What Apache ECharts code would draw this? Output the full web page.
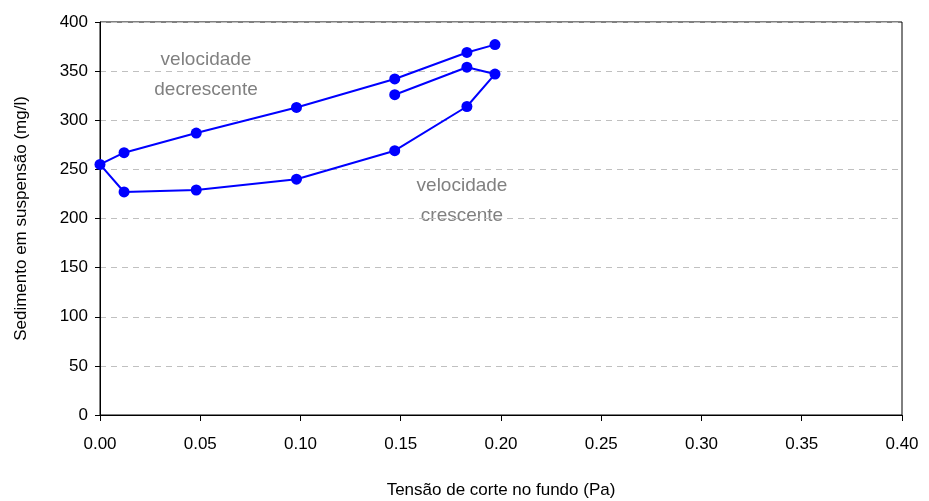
<!DOCTYPE html>
<html lang="pt">
<head>
    <meta charset="UTF-8">
    <title>Sedimento em suspensão</title>
    <script src="https://cdn.jsdelivr.net/npm/echarts@6/dist/echarts.min.js"></script>
    <style>
        html, body { margin: 0; padding: 0; background: #fff; }
    </style>
</head>
<body>
    <div id="main" style="width:929px;height:501px;"></div>

    <script>
        // tensão de corte (Pa), percorrida em ordem (laço de histerese)
        const tensao = [0.147, 0.183, 0.197, 0.183, 0.147, 0.098, 0.048, 0.012, 0.0,
                        0.012, 0.048, 0.098, 0.147, 0.183, 0.197];
        // sedimento em suspensão (mg/l)
        const sedimento = [326, 354, 347, 314, 269, 240, 229, 227, 255,
                           267, 287, 313, 342, 369, 377];

        const xTicks = [0, 0.05, 0.1, 0.15, 0.2, 0.25, 0.3, 0.35, 0.4];
        const yTicks = [0, 50, 100, 150, 200, 250, 300, 350, 400];

        const pontos = tensao.map(function (t, i) { return [t, sedimento[i]]; });

        const fonte = 'Liberation Sans';

        const option = {
            animation: false,
            backgroundColor: '#fff',
            grid: {
                left: 100, right: 27, top: 22, bottom: 86,
                outerBoundsMode: 'none',
                containLabel: false,
                show: true,
                borderColor: '#000',
                borderWidth: 1
            },
            xAxis: {
                type: 'value',
                min: xTicks[0],
                max: xTicks[xTicks.length - 1],
                interval: 0.05,
                name: 'Tensão de corte no fundo (Pa)',
                nameLocation: 'middle',
                nameGap: 67,
                nameTextStyle: { fontFamily: fonte, fontSize: 17, color: '#000' },
                axisLine: { lineStyle: { color: '#000', width: 1 } },
                axisTick: { show: true, inside: false, length: 6, lineStyle: { color: '#000' } },
                axisLabel: {
                    fontFamily: fonte, fontSize: 17, color: '#000', margin: 21,
                    formatter: function (v) { return v.toFixed(2); }
                },
                splitLine: { show: false }
            },
            yAxis: {
                type: 'value',
                min: yTicks[0],
                max: yTicks[yTicks.length - 1],
                interval: 50,
                name: 'Sedimento em suspensão (mg/l)',
                nameLocation: 'middle',
                nameGap: 70,
                nameTextStyle: { fontFamily: fonte, fontSize: 17, color: '#000' },
                axisLine: { show: true, lineStyle: { color: '#000', width: 1 } },
                axisTick: { show: true, inside: false, length: 5, lineStyle: { color: '#000' } },
                axisLabel: { fontFamily: fonte, fontSize: 17, color: '#000', margin: 12 },
                splitLine: { show: true, lineStyle: { color: '#c0c0c0', type: [6, 5], width: 1 } }
            },
            graphic: [
                {
                    type: 'text', x: 206, y: 45,
                    style: {
                        text: 'velocidade\ndecrescente', textAlign: 'center',
                        fill: '#808080', fontFamily: fonte, fontSize: 19, lineHeight: 30
                    }
                },
                {
                    type: 'text', x: 462, y: 171,
                    style: {
                        text: 'velocidade\ncrescente', textAlign: 'center',
                        fill: '#808080', fontFamily: fonte, fontSize: 19, lineHeight: 30
                    }
                }
            ],
            series: [
                {
                    type: 'line',
                    data: pontos,
                    symbol: 'circle',
                    symbolSize: 11,
                    showAllSymbol: true,
                    lineStyle: { color: '#0000ff', width: 2 },
                    itemStyle: { color: '#0000ff' }
                }
            ]
        };

        const myChart = echarts.init(document.getElementById('main'));
        myChart.setOption(option);
    </script>
</body>
</html>
